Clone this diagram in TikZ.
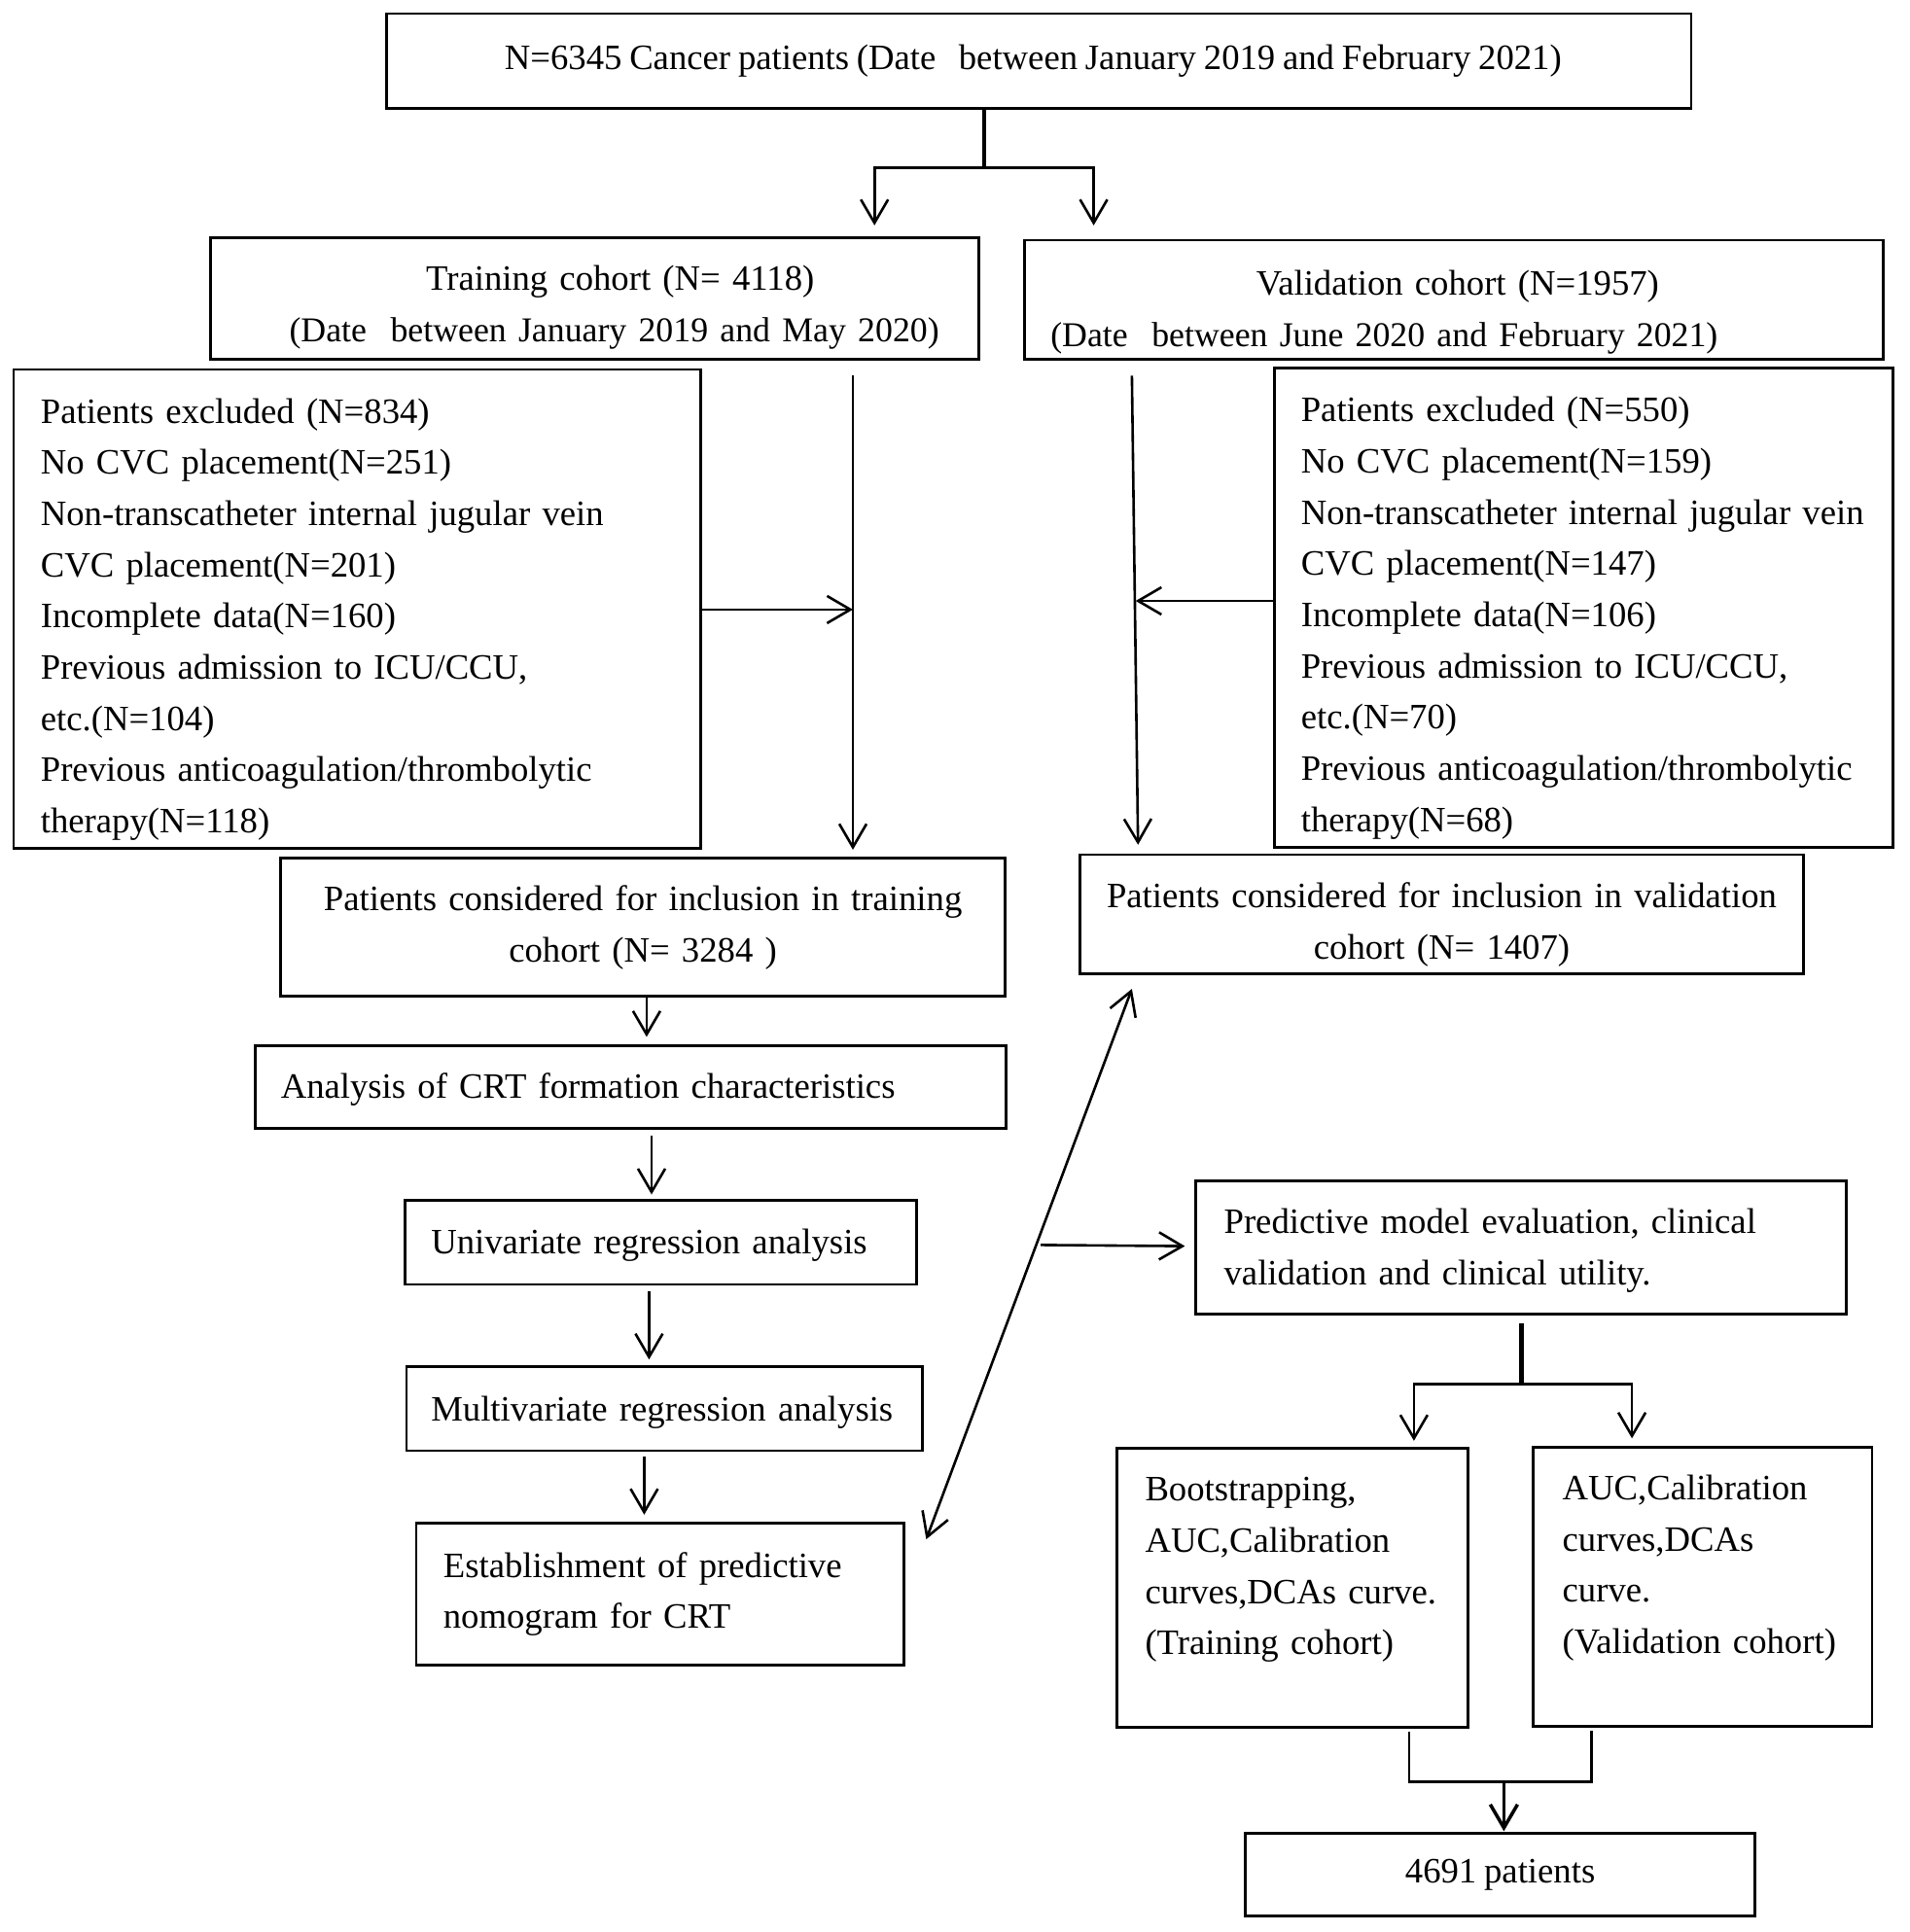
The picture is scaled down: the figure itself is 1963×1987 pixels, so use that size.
\documentclass[tikz,border=0pt]{standalone}
\usepackage{fontspec}
\setmainfont{Liberation Serif}[WordSpace=0.85]
\usetikzlibrary{arrows.meta}
\newcommand\smallline{\fontsize{35.8}{52.7}\selectfont}
\tikzset{
  box/.style={draw, line width=2.8pt, inner ysep=0pt, font=\fontsize{36.7}{52.7}\selectfont},
  lbox/.style={box, align=left},
  cbox/.style={box, align=center},
  ln/.style={line width=2.6pt, line join=miter},
  arr/.style={ln, -{Straight Barb[length=24pt,width=28pt]}},
  darr/.style={ln, {Straight Barb[length=24pt,width=28pt]}-{Straight Barb[length=24pt,width=28pt]}},
}
\begin{document}
\begin{tikzpicture}[x=1pt,y=-1pt]
\useasboundingbox (0,0) rectangle (1963,1987);

% boxes
\node[cbox, minimum width=1341.2pt, minimum height=97.5pt] (top) at (1068.3,62.7)
  {N=6345 Cancer patients (Date\ \ \ between January 2019 and February 2021)\hspace*{12pt}};
\node[lbox, text width=736.3pt, inner xsep=27pt, minimum height=125.4pt] (train) at (611.7,307.1)
  {\rule{0pt}{43pt}\hspace*{194.6pt}\mbox{Training cohort (N= 4118)}\\\hspace*{54pt}\mbox{\smallline(Date\ \ between January 2019 and May 2020)}};
\node[lbox, text width=829.6pt, inner xsep=26.6pt, minimum height=122.8pt] (val) at (1495.1,308.4)
  {\rule{0pt}{51pt}\hspace*{211.5pt}\mbox{Validation cohort (N=1957)}\\\mbox{\smallline(Date\ \ between June 2020 and February 2021)}};
\node[lbox, text width=650.9pt, inner xsep=27.9pt, minimum height=492.6pt] (exclL) at (367.3,626.3)
  {\rule{0pt}{47pt}Patients excluded (N=834)\\No CVC placement(N=251)\\\mbox{Non-transcatheter internal jugular vein}\\CVC placement(N=201)\\Incomplete data(N=160)\\Previous admission to ICU/CCU,\\etc.(N=104)\\\mbox{Previous anticoagulation/thrombolytic}\\therapy(N=118)};
\node[lbox, text width=581.8pt, inner xsep=27pt, minimum height=492.7pt] (exclR) at (1628.7,625.0)
  {\rule{0pt}{47pt}Patients excluded (N=550)\\No CVC placement(N=159)\\\mbox{Non-transcatheter internal jugular vein}\\CVC placement(N=147)\\Incomplete data(N=106)\\Previous admission to ICU/CCU,\\etc.(N=70)\\\mbox{Previous anticoagulation/thrombolytic}\\therapy(N=68)};
\node[cbox, text width=690.7pt, inner xsep=27pt, minimum height=141.8pt] (trinc) at (661.1,953.7)
  {Patients considered for inclusion in training\\cohort (N= 3284 )};
\node[cbox, text width=703.5pt, inner xsep=20pt, minimum height=122.8pt] (valinc) at (1482.5,940.4)
  {\rule{0pt}{47pt}Patients considered for inclusion in validation\\cohort (N= 1407)};
\node[lbox, text width=719.3pt, inner xsep=26.6pt, minimum height=84.9pt] (anal) at (648.4,1117.7)
  {\rule{0pt}{32pt}Analysis of CRT formation characteristics};
\node[lbox, text width=472.4pt, inner xsep=26.6pt, minimum height=86.1pt] (uni) at (679.5,1277.9)
  {\rule{0pt}{32pt}Univariate regression analysis};
\node[lbox, text width=480pt, inner xsep=25.3pt, minimum height=86.1pt] (multi) at (683.3,1448.9)
  {\rule{0pt}{33pt}\mbox{Multivariate regression analysis}};
\node[lbox, text width=445.9pt, inner xsep=27.8pt, minimum height=145.6pt] (estab) at (678.8,1639.5)
  {Establishment of predictive\\nomogram for CRT};
\node[lbox, text width=611pt, inner xsep=28.8pt, minimum height=136.8pt] (pred) at (1564.1,1283.0)
  {\rule{0pt}{32pt}Predictive model evaluation, clinical\\validation and clinical utility.};
\node[lbox, text width=303.4pt, inner xsep=28.8pt, minimum height=287.5pt] (boot) at (1329.2,1633.1)
  {\rule{0pt}{32pt}Bootstrapping,\\AUC,Calibration\\\mbox{curves,DCAs curve.}\\\mbox{(Training cohort)}\\\mbox{}};
\node[lbox, text width=288.5pt, inner xsep=29.9pt, minimum height=287.5pt] (auc) at (1750.9,1631.9)
  {\rule{0pt}{32pt}AUC,Calibration\\curves,DCAs\\curve.\\\mbox{(Validation cohort)}\\\mbox{}};
\node[cbox, minimum width=524.4pt, minimum height=84.9pt] (fin) at (1542.6,1928.3)
  {4691 patients};

% split from top box
\coordinate (sp) at (1011.5,172.2);
\coordinate (tA) at (899.2,172.2);
\coordinate (tAe) at (899.2,231.8);
\coordinate (tB) at (1124.6,172.2);
\coordinate (tBe) at (1124.6,231.8);
\draw[line width=4pt] (top.south -| sp) -- ([yshift=-1pt]sp);
\draw[arr] (sp) -- (tA) -- (tAe);
\draw[arr] (sp) -- (tB) -- (tBe);

% left vertical
\coordinate (lv1) at (877,386.3);
\coordinate (lv2) at (877,873.9);
\coordinate (lvm) at (877,626.9);
\draw[arr] (lv1) -- (lv2);
\draw[arr] (exclL.east |- lvm) -- (lvm);

% right vertical
\coordinate (rv1) at (1163.9,386.3);
\coordinate (rv2) at (1170.2,868.8);
\coordinate (rvm) at (1167.7,618.0);
\draw[arr] (rv1) -- (rv2);
\draw[arr] (exclR.west |- rvm) -- (rvm);

% left chain
\coordinate (a4) at (664.9,1066.4);
\coordinate (a5) at (670,1228.5);
\coordinate (a6) at (667.4,1398.2);
\coordinate (a7) at (662.4,1557.8);
\draw[arr] (trinc.south -| a4) -- (a4);
\draw[arr] ([yshift=-6pt]anal.south -| a5) -- (a5);
\draw[arr] ([yshift=-6pt]uni.south -| a6) -- (a6);
\draw[arr] ([yshift=-5pt]multi.south -| a7) -- (a7);

% diagonal double arrow and branch
\coordinate (d1) at (952.4,1583.1);
\coordinate (d2) at (1163.9,1017.0);
\draw[darr] (d1) -- (d2);
\coordinate (h1) at (1070.2,1280.4);
\coordinate (h2) at (1218.4,1281.6);
\draw[arr] (h1) -- (h2);

% split from predictive box
\coordinate (ps) at (1564.1,1423.5);
\coordinate (pA) at (1453.9,1423.5);
\coordinate (pAe) at (1453.9,1481.8);
\coordinate (pB) at (1678.1,1423.5);
\coordinate (pBe) at (1678.1,1479.3);
\draw[line width=4.8pt] ([yshift=-8pt]pred.south) -- (ps);
\draw[arr] (ps) -- (pA) -- (pAe);
\draw[arr] (ps) -- (pB) -- (pBe);

% merge
\coordinate (mA) at (1448.9,1832.6);
\coordinate (mB) at (1636.3,1832.6);
\coordinate (mm) at (1546.4,1832.6);
\coordinate (me) at (1546.4,1883.3);
\draw[ln] ([yshift=-3pt]boot.south -| mA) -- (mA) -- (mB) -- ([yshift=-3pt]auc.south -| mB);
\draw[arr, line width=3.5pt] (mm) -- (me);
\end{tikzpicture}
\end{document}
